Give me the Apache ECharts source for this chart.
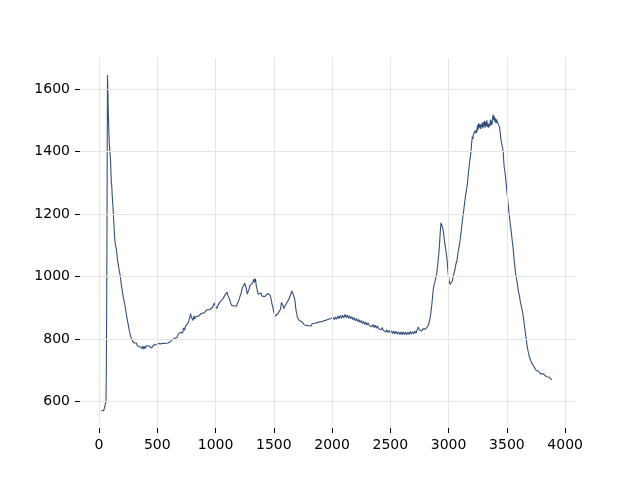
<!DOCTYPE html>
<html>
<head>
<meta charset="utf-8">
<script src="https://cdn.jsdelivr.net/npm/echarts@6/dist/echarts.min.js"></script>
<style>html,body{margin:0;padding:0;background:#fff}#c{width:640px;height:480px}</style>
</head>
<body>
<div id="c"></div>
<script>
// x tick labels and y tick labels
const xTicks = [0, 500, 1000, 1500, 2000, 2500, 3000, 3500, 4000];
const yTicks = [600, 800, 1000, 1200, 1400, 1600];

// spectrum segments: [x, y]
const spikeAndDecay = [[20,572],[40,571],[55,574],[60,600],[63,700],[66,900],[69,1200],[71,1450],[73,1645],[76,1600],[80,1520],[84,1470],[88,1430],[93,1400],[98,1380],[103,1330],[106,1300],[109,1292],[112,1290],[115,1250],[120,1220],[126,1180],[132,1140],[137,1112],[142,1108],[150,1085],[158,1055],[165,1040],[172,1022],[180,1008],[188,985],[195,965],[200,955],[208,935],[215,922],[222,908],[230,890],[238,872],[245,858],[252,845],[260,828],[268,815],[276,804],[284,796],[292,790],[300,788],[310,782],[320,788],[330,779],[340,785],[350,776],[360,782],[368,771],[375,778],[382,768],[390,777],[398,770],[405,779],[412,773],[420,783],[428,778],[436,774],[444,781],[452,772],[460,778],[468,781],[476,786],[484,787],[492,783],[500,788]];
const risingShoulder = [[510,786],[520,789],[530,785],[540,791],[550,787],[560,792],[570,786],[580,791],[590,788],[600,794],[612,792],[620,796],[630,799],[640,805],[650,803],[660,808],[670,806],[680,816],[690,811],[700,822],[710,824],[718,820],[726,836],[734,828],[742,842],[750,844],[758,838],[766,852],[774,856],[780,872],[786,882],[792,871],[798,866],[806,860],[814,874],[822,864],[830,872],[838,866],[846,874],[854,874],[862,878],[870,878],[878,882],[886,882],[894,886],[902,884],[910,890],[918,888],[926,894],[934,890],[942,897],[950,894],[958,900],[966,896],[974,902],[982,904],[990,916],[996,908],[1004,906],[1012,898],[1020,908],[1030,910],[1040,920],[1050,918],[1060,927],[1070,928],[1080,940],[1090,943],[1098,951],[1106,940],[1114,936],[1122,926],[1130,916],[1140,908],[1150,910],[1160,906],[1170,912],[1180,906],[1190,916],[1200,924],[1210,937],[1220,948],[1230,964],[1240,970],[1250,979],[1258,970],[1265,960],[1272,944],[1280,952],[1288,960],[1296,972],[1304,966],[1312,977],[1320,980],[1328,992],[1335,982],[1342,994],[1350,970],[1358,957],[1366,944],[1374,946],[1382,940],[1390,948],[1398,938],[1406,944],[1414,934],[1422,936],[1430,930],[1438,942],[1446,946],[1453,952],[1460,942],[1467,941],[1474,933],[1480,930],[1486,910],[1492,902],[1498,888],[1504,884],[1512,874],[1520,880],[1528,872],[1536,882],[1544,880],[1552,884],[1558,896],[1565,917],[1572,920],[1578,910],[1585,898],[1592,898],[1600,903],[1608,914],[1616,916],[1624,924],[1632,926],[1640,938],[1648,943],[1655,954],[1660,956],[1666,943],[1672,940],[1678,930],[1684,917],[1690,893],[1696,884],[1702,870],[1710,868],[1718,860],[1726,860],[1734,854],[1742,856]];
const broadValley = [[1750,850],[1760,846],[1770,852],[1780,844],[1790,850],[1800,843],[1810,849],[1820,842],[1830,850],[1840,845],[1850,851],[1860,846],[1870,853],[1880,848],[1890,855],[1900,849],[1910,856],[1920,851],[1930,859],[1940,853],[1950,861],[1960,855],[1970,864],[1980,858],[1990,866],[2000,860],[2010,869],[2020,862],[2030,871],[2040,864],[2050,874],[2060,866],[2070,876],[2080,867],[2090,877],[2100,868],[2110,879],[2120,869],[2130,877],[2140,867],[2150,875],[2160,865],[2170,872],[2180,862],[2190,869],[2200,859],[2210,866],[2220,856],[2230,863],[2240,853],[2250,860],[2260,850],[2270,857],[2280,847],[2290,854],[2300,845],[2310,852],[2320,843],[2330,849],[2340,840],[2350,847],[2360,837],[2370,845],[2380,835],[2390,843],[2400,833],[2410,839],[2420,830],[2430,837],[2440,828],[2450,832],[2460,823],[2470,830],[2480,821],[2490,828],[2500,819],[2510,827],[2520,818],[2530,826],[2540,817],[2550,825],[2560,816],[2570,824],[2580,815],[2590,823],[2600,814],[2610,824],[2620,815],[2630,823],[2640,814],[2650,822],[2660,815],[2670,825],[2680,816],[2690,824],[2700,817],[2710,826],[2720,819],[2730,830],[2740,838],[2750,829],[2760,834],[2770,826],[2780,833],[2790,827],[2800,832],[2810,829],[2820,840]];
const highBand = [[2830,850],[2840,866],[2848,885],[2856,910],[2862,935],[2868,958],[2874,972],[2880,980],[2886,990],[2892,998],[2898,1010],[2904,1030],[2910,1052],[2916,1075],[2922,1105],[2928,1140],[2934,1172],[2940,1168],[2946,1160],[2952,1150],[2958,1135],[2964,1115],[2970,1100],[2976,1085],[2982,1068],[2988,1050],[2994,1020],[3000,998],[3006,985],[3012,975],[3018,970],[3024,972],[3030,985],[3036,995],[3042,1005],[3048,1010],[3054,1022],[3060,1035],[3066,1045],[3072,1052],[3078,1070],[3084,1085],[3090,1095],[3096,1110],[3102,1127],[3108,1145],[3114,1165],[3120,1185],[3126,1202],[3132,1220],[3138,1238],[3144,1255],[3150,1270],[3156,1285],[3162,1300],[3168,1325],[3174,1346],[3180,1365],[3186,1382],[3192,1400],[3198,1428],[3203,1447],[3208,1440],[3213,1455],[3218,1460],[3223,1452],[3228,1466],[3233,1458],[3238,1470],[3243,1462],[3248,1485],[3253,1470],[3258,1490],[3263,1476],[3268,1488],[3273,1472],[3278,1486],[3283,1478],[3288,1492],[3293,1474],[3298,1494],[3303,1480],[3308,1498],[3313,1476],[3318,1495],[3323,1482],[3328,1500],[3333,1478],[3338,1490],[3343,1476],[3348,1488],[3353,1480],[3358,1502],[3363,1484],[3368,1498],[3373,1486],[3378,1510],[3383,1518],[3388,1500],[3393,1512],[3398,1494],[3403,1506],[3408,1490],[3413,1502],[3418,1494],[3423,1496],[3428,1488],[3433,1482],[3438,1475],[3443,1460],[3448,1440],[3453,1436],[3458,1420],[3463,1412],[3468,1400],[3472,1375],[3477,1350],[3482,1340],[3488,1318],[3494,1298],[3500,1272],[3506,1250],[3512,1226],[3518,1205],[3524,1185],[3530,1165],[3536,1148],[3542,1128],[3548,1108],[3554,1090],[3560,1062],[3566,1040],[3572,1020],[3578,1003],[3584,990],[3590,975],[3596,960],[3602,948],[3608,938],[3614,922],[3620,912],[3626,902],[3632,892],[3638,878],[3644,862],[3650,845],[3656,828],[3662,812],[3668,795],[3674,778],[3680,765],[3686,755],[3692,745],[3698,738],[3704,732],[3710,726],[3716,721],[3722,718],[3728,712],[3734,711],[3740,705],[3746,706],[3752,700],[3758,702],[3764,696],[3770,698],[3776,692],[3782,694],[3790,689],[3798,691],[3806,686],[3814,689],[3822,683],[3830,686],[3838,680],[3846,682],[3854,677],[3862,679],[3870,674],[3878,674],[3886,670],[3892,670]];

const series = spikeAndDecay.concat(risingShoulder, broadValley, highBand);

const chart = echarts.init(document.getElementById('c'), null, {renderer: 'canvas'});
const labelFont = {fontFamily: 'DejaVu Sans', fontSize: 14, color: '#000', formatter: v => String(v)};
const gridColor = '#e6e6e6';
chart.setOption({
  animation: false,
  backgroundColor: '#fff',
  grid: {left: 80, right: 64, top: 58, bottom: 52},
  xAxis: {
    type: 'value', min: -163, max: 4093,
    axisLine: {show: false, onZero: false},
    axisTick: {show: true, length: 5, lineStyle: {color: '#000', width: 1}, customValues: xTicks},
    axisLabel: Object.assign({margin: 10, customValues: xTicks}, labelFont),
    splitLine: {show: false}
  },
  yAxis: {
    type: 'value', min: 516, max: 1699,
    axisLine: {show: false, onZero: false},
    axisTick: {show: true, length: 5, lineStyle: {color: '#000', width: 1}, customValues: yTicks},
    axisLabel: Object.assign({margin: 10, customValues: yTicks}, labelFont),
    splitLine: {show: false}
  },
  series: [
    {
      type: 'line', data: [], z: 1, silent: true,
      markLine: {
        silent: true, symbol: ['none', 'none'], animation: false,
        label: {show: false},
        lineStyle: {color: gridColor, width: 1, type: 'solid'},
        data: xTicks.map(v => ({xAxis: v})).concat(yTicks.map(v => ({yAxis: v})))
      }
    },
    {
      type: 'line', data: series, z: 3, showSymbol: false, symbol: 'none',
      lineStyle: {color: '#34507a', width: 1.1}
    }
  ]
});
</script>
</body>
</html>
